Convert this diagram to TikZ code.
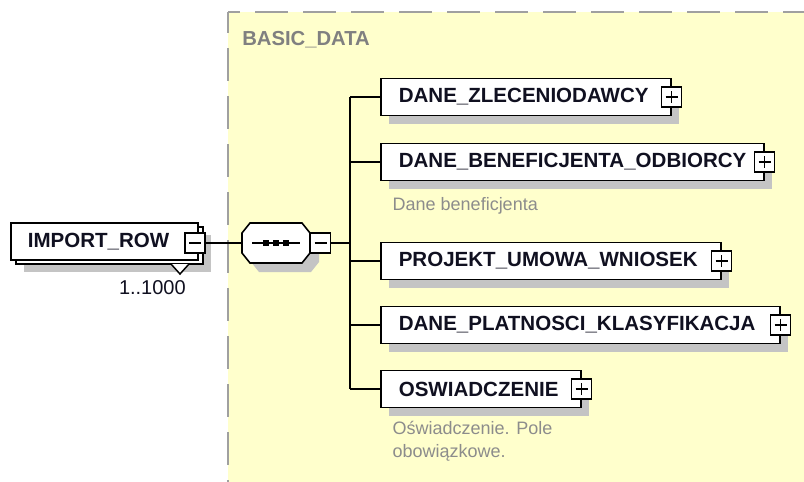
\documentclass[tikz,border=0pt]{standalone}
\usepackage{fontspec}
\setmainfont{Liberation Sans}
\usetikzlibrary{shadows,calc}
\definecolor{bgyellow}{HTML}{FFFFCC}
\definecolor{dashgray}{HTML}{A0A0A0}
\definecolor{shadowgray}{HTML}{C4C4C4}
\definecolor{notegray}{HTML}{8C8C8C}
\definecolor{titlegray}{HTML}{808080}
\definecolor{inkdark}{HTML}{101020}
\begin{document}
\begin{tikzpicture}[x=0.75pt,y=-0.75pt,
  sh/.style={drop shadow={shadow xshift=6pt, shadow yshift=-6pt, fill=shadowgray, opacity=1}},
  elembase/.style={draw=black, fill=white, line width=1.2pt, anchor=west,
    minimum height=27.75pt, inner xsep=13.5pt, inner ysep=0pt, align=left,
    text=inkdark, font=\bfseries\fontsize{15.4}{18}\selectfont},
  elembox/.style={elembase, sh},
  signbox/.style={draw=black, fill=white, line width=1.1pt, minimum size=15pt, inner sep=0pt},
  minusbox/.style={signbox, path picture={
    \draw[line width=1.1pt] ([xshift=3pt]path picture bounding box.west) -- ([xshift=-3pt]path picture bounding box.east);}},
  plusbox/.style={signbox, path picture={
    \draw[line width=1.1pt] ([xshift=3pt]path picture bounding box.west) -- ([xshift=-3pt]path picture bounding box.east);
    \draw[line width=1.1pt] ([yshift=-3pt]path picture bounding box.north) -- ([yshift=3pt]path picture bounding box.south);}},
  conn/.style={draw=black, line width=1.3pt},
  note/.style={anchor=west, text=notegray, align=left, font=\fontsize{13.5}{17.25}\selectfont},
  borderline/.style={draw=dashgray, line width=1.5pt, dash pattern=on 24.75pt off 11.25pt}
]
\useasboundingbox (0,0) rectangle (804,482);
\fill[white] (-5,-5) rectangle (810,490);

% group background and dashed border
\fill[bgyellow] (228,12) rectangle (812,492);
\draw[borderline, dash phase=15.75pt] (228,12) -- (812,12);
\draw[borderline, dash phase=9pt] (228,12) -- (228,492);
\node[anchor=west, text=titlegray, font=\bfseries\fontsize{15.2}{18}\selectfont, inner sep=0pt] (title) at (242,40) {BASIC\_DATA};

% compositor anchor
\node[minimum width=51pt, minimum height=30pt, inner sep=0pt] (seq) at (276,243) {};
\coordinate (bus) at (350,243);

% children
\node[elembox, text width=190.5pt] (c1) at (380,97) {DANE\_ZLECENIODAWCY};
\node[elembox, text width=260.25pt] (c2) at (380,162) {DANE\_BENEFICJENTA\_ODBIORCY};
\node[elembox, text width=228pt] (c3) at (380,261) {PROJEKT\_UMOWA\_WNIOSEK};
\node[elembox, text width=272.25pt] (c4) at (380,325) {DANE\_PLATNOSCI\_KLASYFIKACJA};
\node[elembox, text width=123pt] (c5) at (380,389) {OSWIADCZENIE};
\foreach \i in {1,...,5} {\node[plusbox] (p\i) at (c\i.east) {};}

\node[note] (n2) at (388,206) {Dane beneficjenta};
\node[note] (n5) at (388,441) {Oświadczenie. Pole\\obowiązkowe.};

% IMPORT_ROW (repeated element)
\node[draw=black, fill=white, line width=1.2pt, minimum width=140.25pt, minimum height=27.75pt, inner sep=0pt, anchor=west, sh] (impback) at (15,245.5) {};
\draw[black, fill=white, line width=1.1pt] (171,264) -- (180,274) -- (189,264);
\node[elembase, text width=114.75pt, inner xsep=12.75pt] (imp) at (10,241.5) {IMPORT\_ROW};
\node[minusbox] (impm) at (195,243) {};
\node[anchor=east, text=inkdark, font=\fontsize{15}{18}\selectfont, inner sep=0pt] (mult) at (186,288) {1..1000};

% connectors
\draw[conn] (impm.east) -- (seq.west);
\draw[conn] (bus |- c1.west) -- (bus |- c5.west);
\foreach \i in {1,...,5} {\draw[conn] (bus |- c\i.west) -- (c\i.west);}

% sequence compositor octagon
\fill[shadowgray] (259,232) -- (311,232) -- (319,242) -- (319,262) -- (311,272) -- (259,272) -- (251,262) -- (251,242) -- cycle;
\draw[black, fill=white, line width=1.2pt] (250,223) -- (302,223) -- (310,233) -- (310,253) -- (302,263) -- (250,263) -- (242,253) -- (242,233) -- cycle;
\draw[line width=1.1pt] (252,243) -- (300,243);
\foreach \xx in {266,276,286} {\fill[black] (\xx-3,240) rectangle (\xx+3,246);}
\node[minusbox, anchor=west] (seqm) at (310,243) {};
\draw[conn] (seqm.east) -- (bus);
\end{tikzpicture}
\end{document}
